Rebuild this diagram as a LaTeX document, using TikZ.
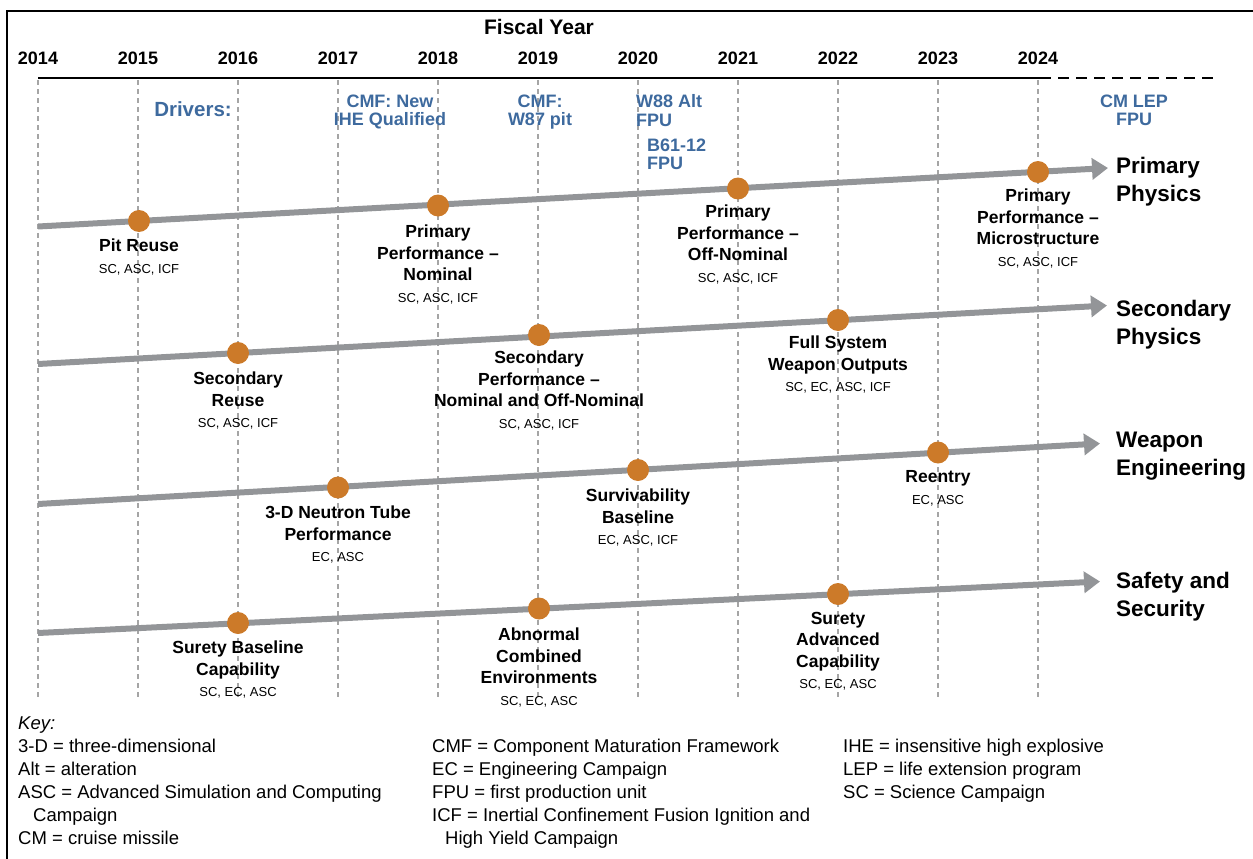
\documentclass[tikz,border=0pt]{standalone}
\usepackage{fontspec}
\setmainfont{Liberation Sans}
\usetikzlibrary{arrows.meta}
\definecolor{drv}{RGB}{62,106,158}
\definecolor{dotc}{RGB}{204,122,41}
\definecolor{trk}{RGB}{147,149,152}
\definecolor{vgr}{RGB}{165,165,165}
\newcommand\subl[1]{{\mdseries\fontsize{13}{21.5}\selectfont #1}}
\begin{document}
\begin{tikzpicture}[x=1pt,y=-1pt,
  ms/.style={font=\bfseries\fontsize{17.5}{21.5}\selectfont, align=center, anchor=north, inner sep=0pt},
  drvtxt/.style={text=drv, font=\bfseries\fontsize{18}{18.5}\selectfont, inner sep=0pt},
  track/.style={draw=trk, line width=6pt, -{Triangle[length=16pt,width=21pt]}},
  mdot/.style={circle, fill=dotc, minimum size=22pt, inner sep=0pt},
  lane/.style={font=\bfseries\fontsize{22.5}{28}\selectfont, align=left, anchor=north west, inner sep=0pt},
  yr/.style={font=\bfseries\fontsize{18}{20}\selectfont, anchor=base, inner sep=0pt},
  keyt/.style={font=\fontsize{18.5}{22}\selectfont, anchor=base west, inner sep=0pt},
  vline/.style={draw=vgr, line width=1.1pt, dash pattern=on 5pt off 4pt}]
\useasboundingbox (0,0) rectangle (1253,859);
% frame
\draw[line width=2.5pt] (7,859) -- (7,11) -- (1253,11);
% vertical dashed lines
\foreach \i in {0,...,10} \draw[vline] ({38+100*\i},80) -- ({38+100*\i},697);
% axis
\coordinate (ax0) at (38,78);
\coordinate (ax1) at (1040,78);
\coordinate (ax2) at (1215,78);
\draw[line width=2.5pt] (ax0) -- (ax1);
\draw[line width=2.5pt, dash pattern=on 11pt off 7pt] (ax1) -- (ax2);
\node[font=\bfseries\fontsize{21}{24}\selectfont, anchor=base, inner sep=0pt] (fy) at (539,34.5) {Fiscal Year};
\foreach \yr [count=\i from 0] in {2014,2015,2016,2017,2018,2019,2020,2021,2022,2023,2024}
  \node[yr] (y\yr) at ({38+100*\i},64.5) {\yr};
% drivers
\node[drvtxt, font=\bfseries\fontsize{20.5}{22}\selectfont, anchor=base] (drivers) at (193,117) {Drivers:};
\node[drvtxt, align=center, anchor=north] (d1) at (390,94.5) {CMF: New\\IHE Qualified};
\node[drvtxt, align=center, anchor=north] (d2) at (540,94.5) {CMF:\\W87 pit};
\node[drvtxt, align=left, anchor=north west] (d3) at (636,94.5) {W88 Alt\\FPU};
\node[drvtxt, align=left, anchor=north west] (d4) at (647,138.5) {B61-12\\FPU};
\node[drvtxt, align=center, anchor=north] (d5) at (1134,94.5) {CM LEP\\FPU};
% tracks
\coordinate (p0) at (38,226.5);  \coordinate (p1) at (1108,168);
\coordinate (s0) at (38,364);    \coordinate (s1) at (1107,305.5);
\coordinate (w0) at (38,504);    \coordinate (w1) at (1100,443.5);
\coordinate (f0) at (38,633);    \coordinate (f1) at (1100,581.5);
\draw[track] (p0) -- (p1);
\draw[track] (s0) -- (s1);
\draw[track] (w0) -- (w1);
\draw[track] (f0) -- (f1);
% dots
\node[mdot] (m1) at (139,221) {};
\node[mdot] (m2) at (438,205.5) {};
\node[mdot] (m3) at (738,188.5) {};
\node[mdot] (m4) at (1038,172) {};
\node[mdot] (m5) at (238,353) {};
\node[mdot] (m6) at (539,335) {};
\node[mdot] (m7) at (838,320) {};
\node[mdot] (m8) at (338,487.5) {};
\node[mdot] (m9) at (638,470) {};
\node[mdot] (m10) at (938,452.5) {};
\node[mdot] (m11) at (238,623) {};
\node[mdot] (m12) at (539,608.5) {};
\node[mdot] (m13) at (838,594) {};
% lane labels
\node[lane] (l1) at (1116,157) {Primary\\Physics};
\node[lane] (l2) at (1116,300) {Secondary\\Physics};
\node[lane] (l3) at (1116,432) {Weapon\\Engineering};
\node[lane] (l4) at (1116,572) {Safety and\\Security};
% milestone labels
\node[ms] (t1) at (139,238.7) {Pit Reuse\\\subl{SC, ASC, ICF}};
\node[ms] (t2) at (438,224.7) {Primary\\Performance --\\Nominal\\\subl{SC, ASC, ICF}};
\node[ms] (t3) at (738,204.7) {Primary\\Performance --\\Off-Nominal\\\subl{SC, ASC, ICF}};
\node[ms] (t4) at (1038,188.7) {Primary\\Performance --\\Microstructure\\\subl{SC, ASC, ICF}};
\node[ms] (t5) at (238,371.7) {Secondary\\Reuse\\\subl{SC, ASC, ICF}};
\node[ms] (t6) at (539,350.7) {Secondary\\Performance --\\Nominal and Off-Nominal\\\subl{SC, ASC, ICF}};
\node[ms] (t7) at (838,335.7) {Full System\\Weapon Outputs\\\subl{SC, EC, ASC, ICF}};
\node[ms] (t8) at (338,505.7) {3-D Neutron Tube\\Performance\\\subl{EC, ASC}};
\node[ms] (t9) at (638,488.7) {Survivability\\Baseline\\\subl{EC, ASC, ICF}};
\node[ms] (t10) at (938,470.7) {Reentry\\\subl{EC, ASC}};
\node[ms] (t11) at (238,640.7) {Surety Baseline\\Capability\\\subl{SC, EC, ASC}};
\node[ms] (t12) at (539,627.7) {Abnormal\\Combined\\Environments\\\subl{SC, EC, ASC}};
\node[ms] (t13) at (838,611.7) {Surety\\Advanced\\Capability\\\subl{SC, EC, ASC}};
% key
\node[keyt] (key) at (18,729.5) {\itshape Key:};
\node[keyt] (k1) at (18,752.5) {3-D = three-dimensional};
\node[keyt] (k2) at (18,775.4) {Alt = alteration};
\node[keyt] (k3) at (18,798.3) {ASC = Advanced Simulation and Computing};
\node[keyt] (k4) at (33,821.2) {Campaign};
\node[keyt] (k5) at (18,844.1) {CM = cruise missile};
\node[keyt] (k6) at (432,752.5) {CMF = Component Maturation Framework};
\node[keyt] (k7) at (432,775.4) {EC = Engineering Campaign};
\node[keyt] (k8) at (432,798.3) {FPU = first production unit};
\node[keyt] (k9) at (432,821.2) {ICF = Inertial Confinement Fusion Ignition and};
\node[keyt] (k10) at (445,844.1) {High Yield Campaign};
\node[keyt] (k11) at (843,752.5) {IHE = insensitive high explosive};
\node[keyt] (k12) at (843,775.4) {LEP = life extension program};
\node[keyt] (k13) at (843,798.3) {SC = Science Campaign};
\end{tikzpicture}
\end{document}
